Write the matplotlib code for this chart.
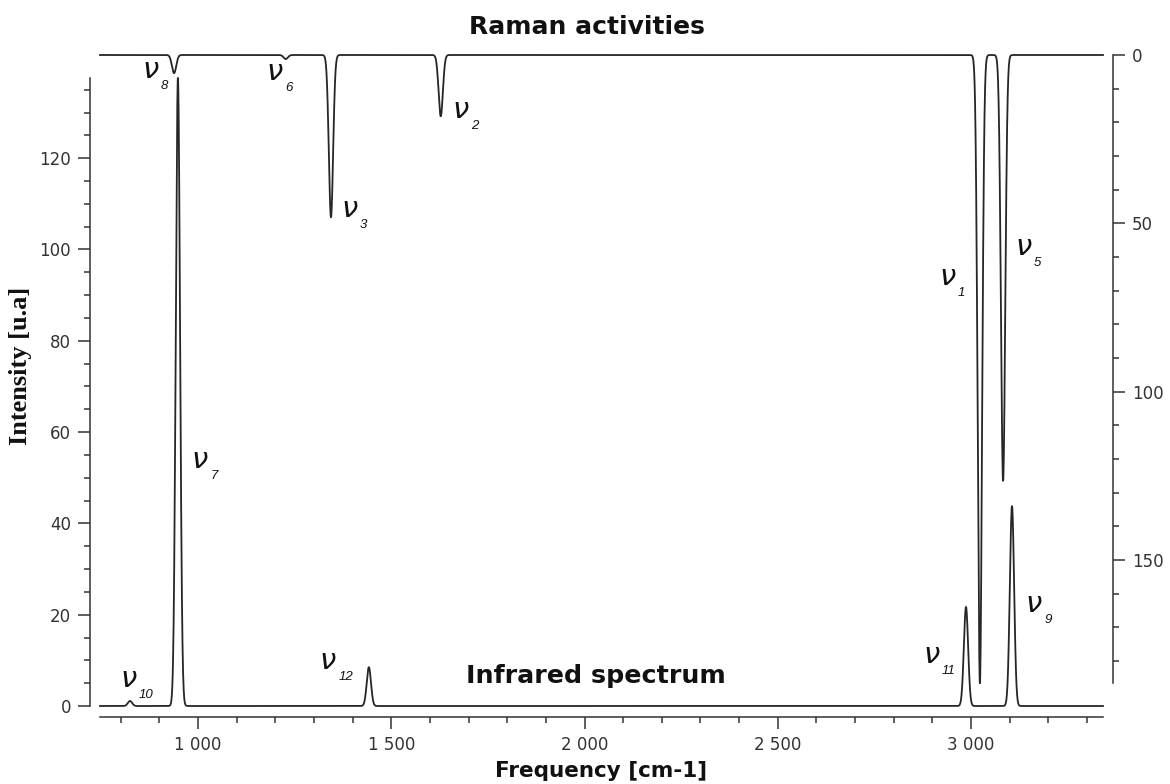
import numpy as np
import matplotlib
matplotlib.use("Agg")
import matplotlib.pyplot as plt
from matplotlib.ticker import FixedLocator, FuncFormatter

# infrared modes: frequency [cm-1] and intensity [u.a]
ir_modes = ["10", "7", "12", "11", "9"]
ir_freq = [824, 948, 1442, 2987, 3106]
ir_int = [1.1, 137.6, 8.5, 21.7, 43.8]

# raman modes: frequency [cm-1] and activity
raman_modes = ["8", "6", "3", "2", "1", "5"]
raman_freq = [938, 1227, 1344, 1628, 3023, 3083]
raman_act = [5.4, 1.2, 48.2, 18.2, 186.6, 126.5]

fwhm = 13.0  # line broadening, cm-1

W, H = 1170, 784
line_col = "#262626"
axis_col = "#333333"


def broaden(freqs, heights, grid):
    sigma = fwhm / 2.3548
    spec = np.zeros_like(grid)
    for f, h in zip(freqs, heights):
        spec += h * np.exp(-0.5 * ((grid - f) / sigma) ** 2)
    return spec


def thousands(v, pos):
    return "{:,.0f}".format(v).replace(",", " ")


fig = plt.figure(figsize=(W / 100, H / 100), dpi=100)
ax = fig.add_axes([100 / W, 1 - 717 / H, 1003 / W, 662 / H])
ax.set_xlim(746.4, 3341.5)
ax.set_ylim(-2.41, 142.6)

ax2 = ax.twinx()
ax2.set_ylim(196.6, 0)

grid = np.arange(ax.get_xlim()[0], ax.get_xlim()[1], 0.5)
ax.plot(grid, broaden(ir_freq, ir_int, grid), color=line_col, lw=1.3, clip_on=False)
ax2.plot(grid, broaden(raman_freq, raman_act, grid), color=line_col, lw=1.3, clip_on=False)

# spines
for s in ["top", "right"]:
    ax.spines[s].set_visible(False)
for s in ["top", "left", "bottom"]:
    ax2.spines[s].set_visible(False)
ax.spines["left"].set_position(("outward", 7.2))
ax.spines["left"].set_bounds(0, max(ir_int))
ax2.spines["right"].set_position(("outward", 7.2))
ax2.spines["right"].set_bounds(0, max(raman_act))
for sp in [ax.spines["left"], ax.spines["bottom"], ax2.spines["right"]]:
    sp.set_color(axis_col)
    sp.set_linewidth(1.1)

# ticks
ax.xaxis.set_major_locator(FixedLocator(np.arange(1000, 3001, 500)))
ax.xaxis.set_minor_locator(FixedLocator(np.arange(800, 3301, 100)))
ax.xaxis.set_major_formatter(FuncFormatter(thousands))
ax.yaxis.set_major_locator(FixedLocator(np.arange(0, 121, 20)))
ax.yaxis.set_minor_locator(FixedLocator(np.arange(0, max(ir_int), 5)))
ax2.yaxis.set_major_locator(FixedLocator(np.arange(0, 151, 50)))
ax2.yaxis.set_minor_locator(FixedLocator(np.arange(0, max(raman_act), 10)))

for a in [ax, ax2]:
    a.tick_params(which="major", length=8.6, width=1.1, color=axis_col,
                  labelsize=12, labelcolor="#333333", pad=5)
    a.tick_params(which="minor", length=4.3, width=1.1, color=axis_col)

# mode labels (nu with subscript index)
ir_label_pos = [(819, 4.2), (1005, 52.1), (1336, 8.1), (2897, 9.4), (3163, 20.6)]
raman_label_pos = [(878, 6.8), (1199, 7.4), (1391, 48.1), (1680, 18.7),
                   (2940, 68.3), (3135, 59.4)]


def mode_label(axis, x, y, sub):
    axis.text(x, y, "ν", ha="center", va="baseline", fontsize=21,
              style="italic", color="#111111")
    axis.annotate(sub, (x, y), xytext=(7.4, -8), textcoords="offset points",
                  ha="left", va="baseline", fontsize=9.5, style="italic",
                  family="Liberation Sans", color="#111111")


for m, (x, y) in zip(ir_modes, ir_label_pos):
    mode_label(ax, x, y, m)
for m, (x, y) in zip(raman_modes, raman_label_pos):
    mode_label(ax2, x, y, m)

# titles
fig.text(587 / W, 1 - 27 / H, "Raman activities", ha="center", va="center",
         fontsize=18, fontweight="bold", color="#111111")
fig.text(596 / W, 1 - 676 / H, "Infrared spectrum", ha="center", va="center",
         fontsize=18.3, fontweight="bold", color="#111111")
fig.text(601 / W, 1 - 771 / H, "Frequency [cm-1]", ha="center", va="center",
         fontsize=15.5, fontweight="bold", color="#111111")
fig.text(21 / W, 1 - 366 / H, "Intensity [u.a]", ha="center", va="center",
         rotation=90, fontsize=19, fontweight="bold", family="Liberation Serif",
         color="#111111")

fig.savefig("out.png", dpi=100)
